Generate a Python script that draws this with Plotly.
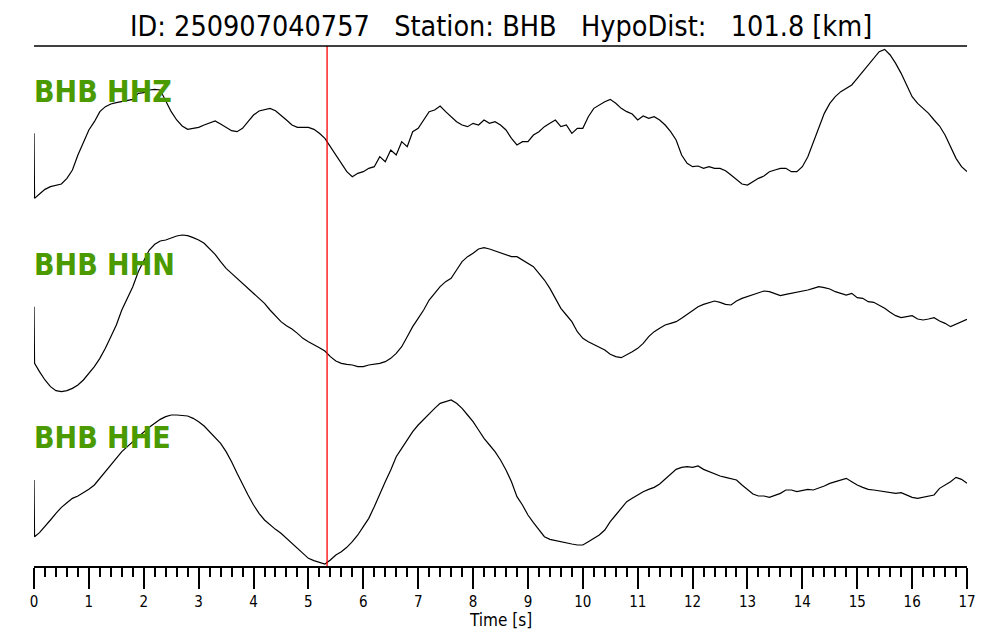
import plotly.graph_objects as go

# ---------------- data ----------------
# sampling: first sample at 0.0 s, second at 0.01 s, then every 0.1 s up to 17.0 s
SAMPLE_DT = 0.1
time_s = [0.0, 0.01] + [round(SAMPLE_DT * k, 1) for k in range(1, 171)]

channels = ["BHB HHZ", "BHB HHN", "BHB HHE"]

# relative amplitudes (arbitrary counts)
hhz = [220, 25,
       38, 52, 60, 64, 68, 85, 110, 155, 195, 230,
       255, 285, 300, 308, 312, 315, 318, 322, 340, 342,
       350, 352, 350, 315, 285, 260, 242, 232, 235, 238,
       245, 252, 257, 248, 238, 228, 225, 235, 255, 275,
       287, 292, 295, 288, 275, 260, 245, 238, 238, 238,
       232, 220, 205, 180, 155, 130, 105, 90, 100, 105,
       115, 120, 150, 135, 170, 155, 195, 180, 225, 235,
       260, 285, 290, 302, 285, 270, 255, 245, 240, 250,
       245, 260, 250, 255, 245, 230, 205, 185, 195, 195,
       215, 225, 240, 250, 260, 240, 245, 220, 235, 235,
       270, 295, 305, 315, 322, 310, 295, 285, 278, 260,
       272, 265, 270, 260, 245, 225, 200, 155, 130, 120,
       122, 115, 120, 115, 115, 108, 95, 80, 68, 65,
       75, 85, 92, 105, 110, 115, 115, 105, 105, 120,
       150, 195, 240, 280, 310, 330, 345, 355, 365, 385,
       405, 425, 445, 465, 472, 455, 430, 400, 365, 330,
       310, 295, 280, 260, 242, 215, 180, 145, 120, 105]

hhn = [255, 85,
       60, 35, 15, 3, 0, 3, 10, 20, 35, 55,
       75, 100, 130, 165, 200, 245, 280, 315, 360, 395,
       425, 442, 452, 455, 462, 467, 470, 468, 462, 455,
       445, 430, 412, 390, 370, 355, 340, 325, 310, 295,
       280, 265, 245, 228, 210, 198, 188, 175, 160, 150,
       142, 132, 122, 105, 92, 85, 82, 80, 75, 75,
       80, 82, 85, 90, 100, 115, 135, 165, 195, 220,
       245, 275, 295, 315, 330, 340, 365, 390, 405, 415,
       428, 432, 428, 422, 415, 410, 405, 405, 395, 385,
       375, 355, 335, 310, 280, 250, 230, 210, 180, 160,
       150, 142, 135, 125, 112, 105, 102, 110, 120, 130,
       145, 165, 180, 190, 200, 205, 210, 220, 232, 242,
       255, 262, 268, 272, 268, 262, 260, 272, 280, 285,
       290, 295, 302, 300, 295, 288, 292, 295, 300, 302,
       305, 310, 315, 312, 308, 300, 295, 290, 295, 282,
       280, 270, 268, 260, 250, 238, 228, 222, 225, 228,
       218, 215, 218, 222, 212, 205, 195, 202, 208, 217]

hhe = [230, 60,
       72, 90, 110, 130, 148, 162, 175, 182, 192, 202,
       215, 235, 255, 275, 295, 315, 330, 345, 360, 372,
       388, 400, 412, 420, 425, 425, 424, 422, 415, 405,
       392, 375, 360, 340, 315, 285, 250, 215, 185, 155,
       130, 110, 95, 82, 70, 55, 40, 22, 8, -5,
       -12, -18, -22, -10, 5, 15, 28, 45, 65, 90,
       115, 150, 190, 225, 260, 300, 325, 350, 375, 395,
       412, 430, 445, 460, 465, 470, 460, 445, 425, 405,
       380, 355, 335, 315, 290, 260, 225, 180, 155, 125,
       102, 80, 60, 52, 48, 45, 42, 38, 35, 35,
       45, 55, 65, 80, 105, 125, 145, 165, 175, 185,
       195, 202, 208, 218, 232, 248, 262, 268, 270, 268,
       272, 262, 255, 248, 242, 238, 235, 230, 215, 200,
       188, 182, 182, 178, 185, 190, 200, 200, 195, 198,
       202, 200, 205, 212, 220, 225, 232, 235, 225, 215,
       208, 202, 200, 198, 195, 192, 190, 192, 185, 178,
       175, 178, 182, 185, 205, 215, 225, 238, 232, 220]

p_pick_s = 5.34
x_ticks = list(range(0, 18))

# ---------------- layout constants ----------------
FONT = "DejaVu Sans Condensed, DejaVu Sans, sans-serif"
trace_offsets = [359.33, 174.33, 9.33]
amp_scale = 1 / 3
label_y = [475, 302, 129]
GREEN = "#4a9a00"

fig = go.Figure()
for name, vals, off in zip(channels, [hhz, hhn, hhe], trace_offsets):
    fig.add_trace(go.Scatter(
        x=time_s, y=[off + v * amp_scale for v in vals],
        mode="lines", line=dict(color="black", width=1.2),
        name=name, showlegend=False, hoverinfo="skip"))

for name, ly in zip(channels, label_y):
    fig.add_annotation(x=0, xref="paper", y=ly, yref="y", text="<b>%s</b>" % name,
                       showarrow=False, xanchor="left", yanchor="middle", xshift=-2,
                       font=dict(family=FONT, size=30, color=GREEN))

# P pick line
fig.add_shape(type="line", x0=p_pick_s, x1=p_pick_s, xref="x", y0=0, y1=1, yref="paper",
              line=dict(color="red", width=1.3))
# top line
fig.add_shape(type="line", x0=0, x1=1, xref="paper", y0=1, y1=1, yref="paper",
              line=dict(color="black", width=1.5))

fig.add_annotation(x=0.5, xref="paper", y=1 + (46 - 27) / 520, yref="paper",
                   text="ID: 250907040757   Station: BHB   HypoDist:   101.8 [km]",
                   showarrow=False, xanchor="center", yanchor="middle",
                   font=dict(family=FONT, size=28.5, color="black"))

# x axis title
fig.add_annotation(x=0.5, xref="paper", y=-(620 - 566) / 520, yref="paper",
                   text="Time [s]", showarrow=False, xanchor="center", yanchor="middle",
                   font=dict(family=FONT, size=17, color="black"))

fig.update_layout(
    width=1000, height=640,
    margin=dict(l=34, r=33, t=46, b=74),
    paper_bgcolor="white", plot_bgcolor="white",
    xaxis=dict(range=[0, 17], tickvals=x_ticks, ticks="outside", ticklen=21, tickwidth=2,
               tickcolor="black", showline=True, linewidth=2, linecolor="black",
               showgrid=False, zeroline=False,
               minor=dict(dtick=0.2, ticks="outside", ticklen=9, tickwidth=2,
                          tickcolor="black", showgrid=False),
               tickfont=dict(family=FONT, size=15, color="black")),
    yaxis=dict(range=[0, 520], visible=False, showgrid=False, zeroline=False),
)

fig.write_html("out.html", config={"displayModeBar": False},
               post_script="document.body.style.margin='0';document.body.style.padding='0';")
